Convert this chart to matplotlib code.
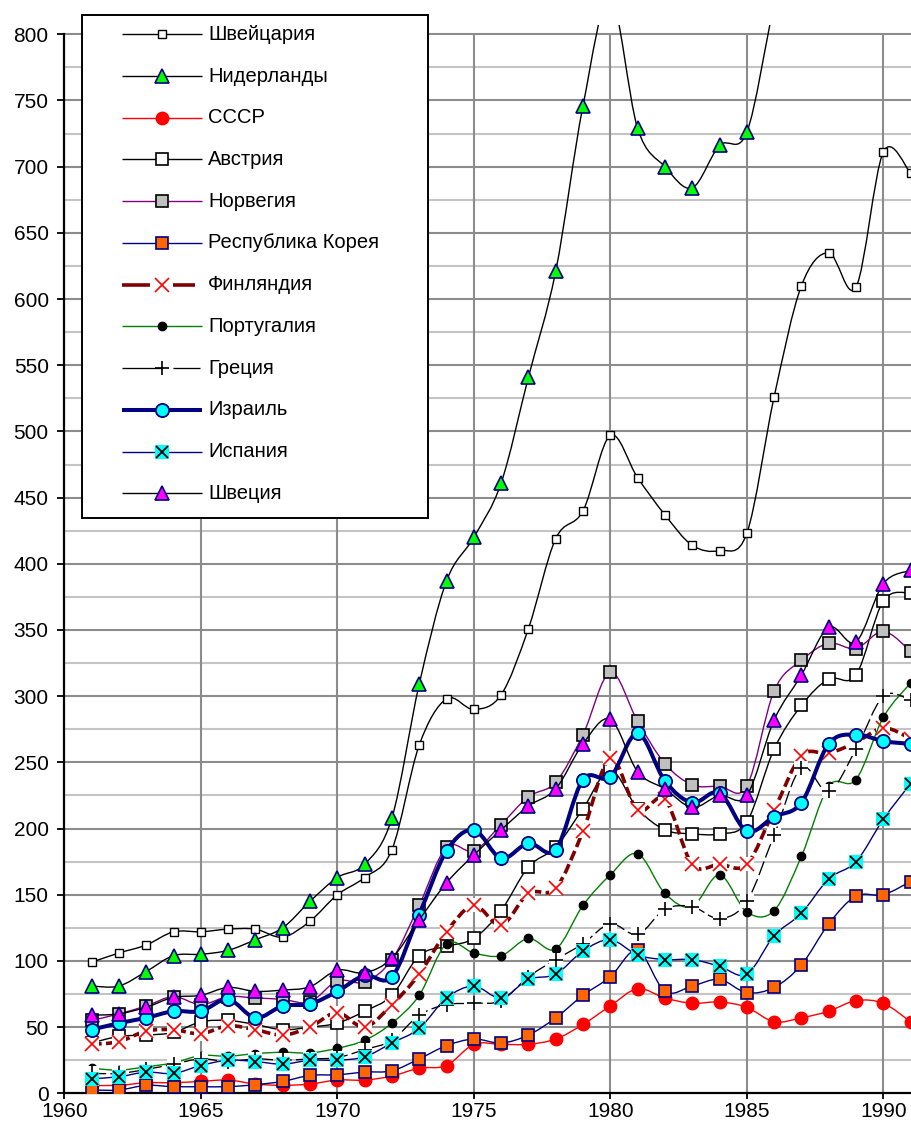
import matplotlib
matplotlib.use("Agg")
import matplotlib.pyplot as plt
from matplotlib.path import Path
from matplotlib.patches import PathPatch, Rectangle
from matplotlib.lines import Line2D
import numpy as np

plt.rcParams['font.family'] = ['Liberation Sans', 'DejaVu Sans']

years = list(range(1961, 1992))

switzerland = [99, 106, 112, 122, 122, 124, 124, 118, 130, 150, 163, 184, 263, 298, 290, 301,
               351, 419, 440, 497, 465, 437, 414, 410, 423, 526, 610, 635, 609, 711, 695]
netherlands = [81, 81, 92, 104, 105, 108, 116, 125, 145, 163, 173, 208, 309, 387, 420, 461,
               541, 621, 746, 828, 729, 700, 684, 716, 726, 822, 900, 950, 980, 1080, 1100]
ussr = [6, 6, 8, 8, 9, 10, 7, 6, 7, 10, 10, 13, 19, 21, 37, 37,
        37, 41, 52, 66, 79, 72, 68, 69, 65, 54, 57, 62, 70, 68, 54]
austria = [38, 43, 44, 46, 54, 55, 52, 48, 50, 53, 62, 74, 104, 111, 117, 138,
           171, 186, 215, 244, 215, 199, 196, 196, 205, 260, 293, 313, 316, 372, 378]
norway = [55, 60, 66, 73, 67, 73, 72, 71, 69, 85, 84, 101, 142, 186, 183, 203,
          224, 235, 271, 318, 281, 249, 233, 232, 232, 304, 327, 340, 336, 349, 334]
korea = [2.5, 2.5, 6, 5, 5, 5, 6.5, 9, 13.5, 14, 16, 17, 26, 36, 41, 38,
         44, 57, 74, 88, 108, 77, 81, 86, 76, 80, 97, 128, 149, 150, 160]
finland = [37, 39, 47, 48, 45, 51, 48, 44, 50, 61, 50, 67, 90, 122, 142, 127,
           151, 155, 198, 253, 214, 222, 173, 173, 173, 214, 255, 257, 265, 276, 268]
portugal = [19, 17.5, 20, 23, 28.5, 28, 30, 31, 30.5, 34, 40, 53, 74, 113, 106, 104,
            117, 109, 142, 165, 181, 151, 141, 165, 137, 138, 179, 232, 237, 284, 310]
greece = [15, 15, 18, 22, 26, 24, 26, 25, 26, 27, 33, 40, 59, 67, 68, 70,
          88, 101, 113, 128, 120, 139, 141, 132, 145, 195, 246, 228, 260, 300, 297]
israel = [48, 53, 57, 62, 62, 71, 57, 66, 67.5, 77, 89, 88, 135, 183, 199, 177.5,
          189, 184, 237, 239, 272, 236, 219.5, 227, 198, 209, 219.5, 264, 271, 266, 264]
spain = [11, 12.5, 16, 15, 21, 25, 24, 22, 25, 25, 27.6, 38, 49, 72, 81, 72,
         86, 90, 107.5, 116, 104.5, 101, 101, 96, 90, 119, 136, 162, 175, 207, 234]
sweden = [59, 60, 65, 72.5, 74, 80, 77, 78, 80.5, 93, 91, 102, 131, 159, 180, 199,
          217, 230, 264, 282.5, 243, 230, 216, 225, 225, 282, 316, 352, 341, 385, 395]

labels = ["Швейцария", "Нидерланды", "СССР", "Австрия", "Норвегия", "Республика Корея",
          "Финляндия", "Португалия", "Греция", "Израиль", "Испания", "Швеция"]

W, H = 911, 1129
fig = plt.figure(figsize=(W / 100, H / 100), dpi=100)

x_left_px, y_bottom_px, y800_px = 64.3, 1093.3, 34.3
px_per_unit = (y_bottom_px - y800_px) / 800.0
px_per_year = 27.3
ytop = 807
top_px = y_bottom_px - ytop * px_per_unit
xmax = 1960 + (W - x_left_px) / px_per_year

ax = fig.add_axes([x_left_px / W, (H - y_bottom_px) / H, 1 - x_left_px / W,
                   (y_bottom_px - top_px) / H])
ax.set_xlim(1960, xmax)
ax.set_ylim(0, ytop)

# grid
ax.set_yticks(np.arange(0, 801, 50))
ax.set_yticks(np.arange(0, 801, 25), minor=True)
ax.set_xticks(np.arange(1960, 1991, 5))
ax.grid(False)
for v in np.arange(25, 801, 50):
    ax.axhline(v, color='#c4c4c4', lw=1.5, zorder=0.5)
for v in np.arange(50, 801, 50):
    ax.axhline(v, color='#8c8c8c', lw=1.5, zorder=0.6)
ax.vlines(np.arange(1965, 1991, 5), 0, 800, color='#8c8c8c', lw=1.5, zorder=0.6)

for s in ['top', 'right']:
    ax.spines[s].set_visible(False)
ax.spines['left'].set_bounds(0, 800)
ax.spines['left'].set_linewidth(1.6)
ax.spines['bottom'].set_linewidth(1.6)
ax.spines['left'].set_zorder(0.7)
ax.tick_params(axis='y', which='major', direction='out', length=4.75, width=1.3,
               labelsize=15, pad=6.5)
ax.tick_params(axis='y', which='minor', length=0)
ax.tick_params(axis='x', which='major', direction='out', length=4.5, width=1.3,
               labelsize=15, pad=2)


def smooth_path(xs, ys):
    n = len(xs)
    verts = [(xs[0], ys[0])]
    codes = [Path.MOVETO]
    for i in range(n - 1):
        x0, y0 = xs[i], ys[i]
        x1, y1 = xs[i + 1], ys[i + 1]
        xm, ym = (xs[i - 1], ys[i - 1]) if i > 0 else (x0, y0)
        xp, yp = (xs[i + 2], ys[i + 2]) if i + 2 < n else (x1, y1)
        c1 = (x0 + (x1 - xm) / 6.0, y0 + (y1 - ym) / 6.0)
        c2 = (x1 - (xp - x0) / 6.0, y1 - (yp - y0) / 6.0)
        verts += [c1, c2, (x1, y1)]
        codes += [Path.CURVE4] * 3
    return Path(verts, codes)


NAVY = '#000080'
styles = [
    dict(color='black', lw=1.0, ls='-', markers=[dict(marker='s', ms=6, mfc='white', mec='black', mew=1.0)]),
    dict(color='black', lw=1.0, ls='-', markers=[dict(marker='^', ms=10, mfc='#00ff00', mec=NAVY, mew=1.2)]),
    dict(color='#ff0000', lw=1.0, ls='-', markers=[dict(marker='o', ms=9, mfc='#ff0000', mec='#ff0000', mew=1.0)]),
    dict(color='black', lw=1.0, ls='-', markers=[dict(marker='s', ms=9, mfc='white', mec='black', mew=1.2)]),
    dict(color='#800080', lw=1.0, ls='-', markers=[dict(marker='s', ms=9, mfc='#c0c0c0', mec='black', mew=1.2)]),
    dict(color=NAVY, lw=1.0, ls='-', markers=[dict(marker='s', ms=8.5, mfc='#ff6600', mec=NAVY, mew=1.2)]),
    dict(color='#800000', lw=2.6, ls=(0, (2.8, 1.2)),
         markers=[dict(marker='s', ms=9.5, mfc='white', mec='none', mew=0),
                  dict(marker='x', ms=9.5, mfc='none', mec='#ff0000', mew=1.2)]),
    dict(color='#008000', lw=1.0, ls='-', markers=[dict(marker='o', ms=6.2, mfc='black', mec='black', mew=0.8)]),
    dict(color='black', lw=0.95, ls=(0, (11, 3.2)),
         markers=[dict(marker='s', ms=9.5, mfc='white', mec='none', mew=0),
                  dict(marker='+', ms=10.5, mfc='none', mec='black', mew=1.2)]),
    dict(color=NAVY, lw=2.9, ls='-', markers=[dict(marker='o', ms=9.5, mfc='#00ffff', mec=NAVY, mew=1.3)]),
    dict(color=NAVY, lw=1.0, ls='-', markers=[dict(marker='s', ms=10.5, mfc='#00ffff', mec='none', mew=0),
                                              dict(marker='x', ms=8.5, mfc='none', mec='black', mew=1.3)]),
    dict(color='black', lw=1.0, ls='-', markers=[dict(marker='^', ms=10, mfc='#ff00ff', mec=NAVY, mew=1.2)]),
]

series = [switzerland, netherlands, ussr, austria, norway, korea,
          finland, portugal, greece, israel, spain, sweden]

for k, (vals, st) in enumerate(zip(series, styles)):
    z = 2 + k * 0.1
    patch = PathPatch(smooth_path(years, vals), fill=False, edgecolor=st['color'],
                      lw=st['lw'], linestyle=st['ls'], zorder=z, capstyle='butt')
    ax.add_patch(patch)
    for j, m in enumerate(st['markers']):
        ax.plot(years, vals, linestyle='none', marker=m['marker'], markersize=m['ms'],
                markerfacecolor=m['mfc'], markeredgecolor=m['mec'], markeredgewidth=m['mew'],
                zorder=z + 0.01 + j * 0.01, clip_on=True)

# ---- manual legend (figure pixel coordinates) ----
def fx(x):
    return x / W


def fy(y):
    return 1 - y / H


box = Rectangle((fx(82), fy(518)), fx(427.5) - fx(82), fy(15) - fy(518),
                transform=fig.transFigure, facecolor='white', edgecolor='black',
                lw=1.4, zorder=10)
fig.add_artist(box)

x0, x1, xm, xt = 122, 202, 162, 208
pitch = (493.3 - 34.3) / 11
for k, (lab, st) in enumerate(zip(labels, styles)):
    yy = 34.3 + k * pitch
    if k == 6:
        segs = [(122, 150), (173, 195)]
    elif k == 8:
        segs = [(122, 162), (173, 200)]
    else:
        segs = [(x0, x1)]
    for a, b in segs:
        fig.add_artist(Line2D([fx(a), fx(b)], [fy(yy), fy(yy)], transform=fig.transFigure,
                              color=st['color'], lw=st['lw'], solid_capstyle='butt', zorder=11))
    for j, m in enumerate(st['markers']):
        if m['mfc'] == 'white' and m['mec'] == 'none':
            continue
        fig.add_artist(Line2D([fx(xm)], [fy(yy)], transform=fig.transFigure, linestyle='none',
                              marker=m['marker'], markersize=m['ms'], markerfacecolor=m['mfc'],
                              markeredgecolor=m['mec'], markeredgewidth=m['mew'], zorder=12 + j * 0.1))
    fig.text(fx(xt), fy(yy), lab, fontsize=14.5, va='center', ha='left', zorder=13)

fig.savefig("out.png", dpi=100)
